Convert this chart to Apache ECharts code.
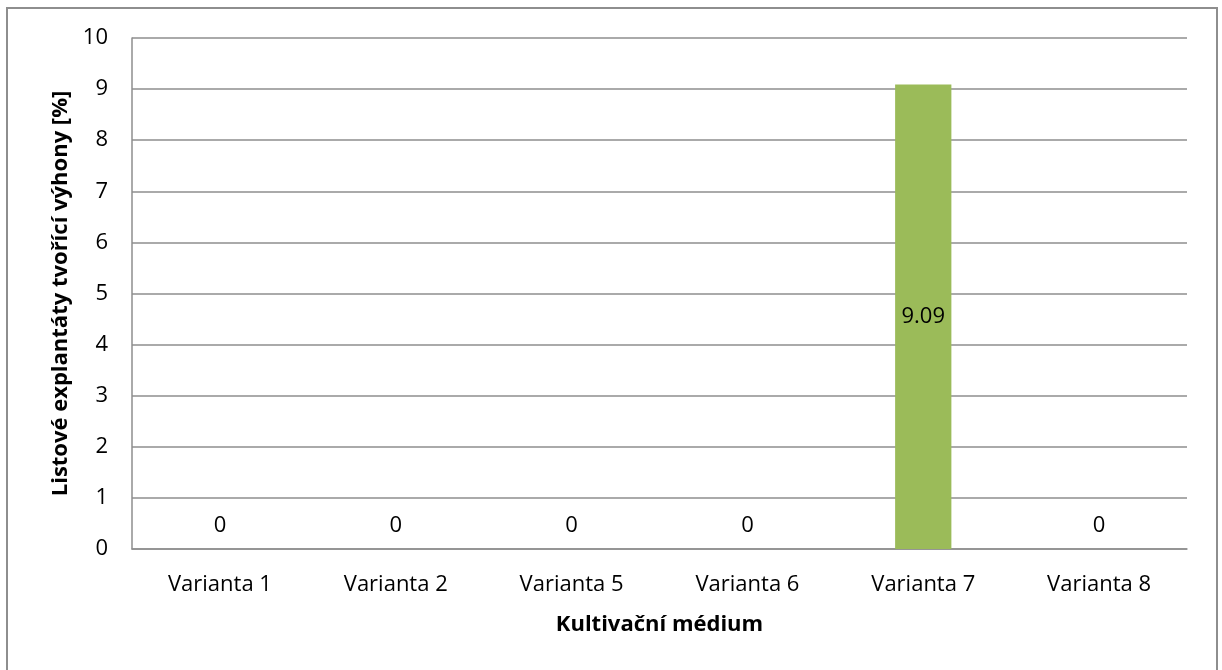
<!DOCTYPE html>
<html>
<head>
<meta charset="utf-8">
<script src="https://cdn.jsdelivr.net/npm/echarts@6/dist/echarts.min.js"></script>
<style>
  html, body { margin: 0; padding: 0; background: #fff; }
  #chart { position: absolute; left: 0; top: 0; width: 1222px; height: 670px; }
  .frame {
    position: absolute; left: 6px; top: 7px; width: 1208px; height: 700px;
    border: 2px solid #8e8e8e; pointer-events: none;
  }
</style>
</head>
<body>
<div id="chart"></div>
<div class="frame"></div>
<script>
const categories = ['Varianta 1', 'Varianta 2', 'Varianta 5', 'Varianta 6', 'Varianta 7', 'Varianta 8'];
const values = [0, 0, 0, 0, 9.09, 0];
const yTitle = 'Listové explantáty tvořící výhony [%]';
const xTitle = 'Kultivační médium';

const font = '"Open Sans", Lato, sans-serif';

const chart = echarts.init(document.getElementById('chart'));

// zero bars get their label above the baseline, the real bar in the middle
const barData = values.map((v) => ({
  value: v,
  label: v > 0
    ? { position: 'inside' }
    : { position: 'top', distance: 12 },
}));

const option = {
  animation: false,
  grid: {
    left: 132,
    right: 35,
    top: 38,
    bottom: 121,
  },
  xAxis: {
    type: 'category',
    data: categories,
    name: xTitle,
    nameLocation: 'middle',
    nameGap: 65,
    nameTextStyle: { fontFamily: font, fontSize: 22, fontWeight: 'bold', color: '#000' },
    axisLine: { lineStyle: { color: '#8e8e8e', width: 1.5 } },
    axisTick: { show: false },
    axisLabel: { fontFamily: font, fontSize: 22, color: '#000', margin: 25 },
  },
  yAxis: {
    type: 'value',
    min: 0,
    max: 10,
    interval: 1,
    name: yTitle,
    nameLocation: 'middle',
    nameGap: 60,
    nameTextStyle: { fontFamily: font, fontSize: 22, fontWeight: 'bold', color: '#000' },
    axisLine: { show: true, lineStyle: { color: '#8e8e8e', width: 1.5 } },
    axisTick: { show: false },
    axisLabel: { fontFamily: font, fontSize: 22, color: '#000', margin: 24 },
    splitLine: { lineStyle: { color: '#8e8e8e', width: 1.5 } },
  },
  series: [
    {
      type: 'bar',
      data: barData,
      barWidth: '32%',
      itemStyle: { color: '#9bbb59' },
      label: {
        show: true,
        fontFamily: font,
        fontSize: 22,
        color: '#000',
      },
    },
  ],
};

chart.setOption(option);
</script>
</body>
</html>
